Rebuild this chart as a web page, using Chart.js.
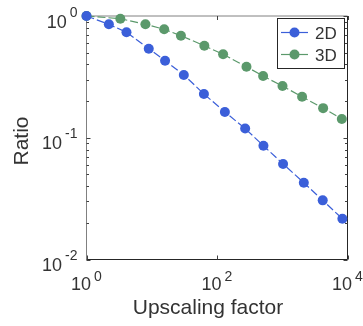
<!DOCTYPE html>
<html>
<head>
<meta charset="utf-8">
<script src="https://cdn.jsdelivr.net/npm/chart.js@4.4.1/dist/chart.umd.min.js"></script>
<style>
  html, body { margin: 0; padding: 0; background: #ffffff; }
  #wrap { width: 363px; height: 326px; position: relative; }
</style>
</head>
<body>
<div id="wrap"><canvas id="c" width="363" height="326"></canvas></div>
<script>
// ---- data ----
const seriesNames = ['2D', '3D'];
const factors2D = [1, 2.2, 4.1, 9, 16, 31, 63, 132, 270, 515, 1030, 2140, 4170, 8350];
const ratio2D   = [1, 0.855, 0.735, 0.539, 0.429, 0.328, 0.229, 0.163, 0.119, 0.086, 0.0609, 0.0427, 0.0306, 0.0216];
const factors3D = [1, 3.3, 8, 15.5, 28, 64, 124, 283, 509, 1009, 2014, 4230, 8180];
const ratio3D   = [1, 0.95, 0.855, 0.778, 0.689, 0.570, 0.485, 0.383, 0.321, 0.266, 0.217, 0.175, 0.1426];
const xTickValues = [1, 100, 10000];
const xTickExponents = ['0', '2', '4'];
const yTickValues = [1, 0.1, 0.01];
const yTickExponents = ['0', '-1', '-2'];
const xTitle = 'Upscaling factor';
const yTitle = 'Ratio';

const BLUE = '#3B5FD9';
const GREEN = '#5B996B';
const TEXT = '#333333';
const FONT = "'Liberation Sans', Arial, sans-serif";

function pts(xs, ys) { return xs.map((x, i) => ({ x: x, y: ys[i] })); }

const axesPlugin = {
  id: 'matlabAxes',
  beforeDatasetsDraw(chart) {
    const ctx = chart.ctx, a = chart.chartArea;
    const xs = chart.scales.x, ys = chart.scales.y;
    ctx.save();
    ctx.fillStyle = '#ffffff';
    ctx.fillRect(a.left, a.top, a.right - a.left, a.bottom - a.top);
    // box
    ctx.lineWidth = 1;
    ctx.strokeStyle = '#808080';
    ctx.beginPath();
    ctx.moveTo(a.left, a.bottom); ctx.lineTo(a.left, a.top); ctx.lineTo(a.right, a.top);
    ctx.stroke();
    ctx.strokeStyle = '#262626';
    ctx.beginPath();
    ctx.moveTo(a.left, a.bottom); ctx.lineTo(a.right, a.bottom); ctx.lineTo(a.right, a.top);
    ctx.stroke();
    // y ticks (major + minor), inward on both sides
    ctx.strokeStyle = '#404040';
    ctx.beginPath();
    yTickValues.forEach(v => {
      const y = Math.round(ys.getPixelForValue(v)) + 0.5;
      ctx.moveTo(a.left, y); ctx.lineTo(a.left + 4, y);
      ctx.moveTo(a.right, y); ctx.lineTo(a.right - 4, y);
    });
    [0.01, 0.1].forEach(d => {
      for (let k = 2; k <= 9; k++) {
        const y = Math.round(ys.getPixelForValue(k * d)) + 0.5;
        ctx.moveTo(a.left, y); ctx.lineTo(a.left + 2.5, y);
        ctx.moveTo(a.right, y); ctx.lineTo(a.right - 2.5, y);
      }
    });
    xTickValues.forEach(v => {
      const x = Math.round(xs.getPixelForValue(v)) + 0.5;
      ctx.moveTo(x, a.bottom); ctx.lineTo(x, a.bottom - 4);
      ctx.moveTo(x, a.top); ctx.lineTo(x, a.top + 4);
    });
    ctx.stroke();

    // tick labels
    ctx.fillStyle = TEXT;
    ctx.textBaseline = 'alphabetic';
    const bigF = '18px ' + FONT, smallF = '14px ' + FONT;
    yTickValues.forEach((v, i) => {
      const y = ys.getPixelForValue(v);
      const right = a.left - 9;
      ctx.font = smallF;
      const we = ctx.measureText(yTickExponents[i]).width;
      ctx.textAlign = 'left';
      ctx.fillText(yTickExponents[i], right - we, y + 0.5);
      ctx.font = bigF;
      const wb = ctx.measureText('10').width;
      ctx.fillText('10', right - we - 3 - wb, y + 11.5);
    });
    xTickValues.forEach((v, i) => {
      const x = xs.getPixelForValue(v);
      ctx.font = bigF;
      const wb = ctx.measureText('10').width;
      ctx.font = smallF;
      const we = ctx.measureText(xTickExponents[i]).width;
      const start = x - (wb + 3 + we) / 2;
      ctx.textAlign = 'left';
      ctx.font = bigF;
      ctx.fillText('10', start, 290);
      ctx.font = smallF;
      ctx.fillText(xTickExponents[i], start + wb + 3, 281);
    });

    // axis titles
    ctx.font = '21px ' + FONT;
    ctx.textAlign = 'center';
    ctx.fillText(xTitle, 208, 314);
    ctx.save();
    ctx.translate(28, 141);
    ctx.rotate(-Math.PI / 2);
    ctx.fillText(yTitle, 0, 0);
    ctx.restore();
    ctx.restore();
  },
  afterDatasetsDraw(chart) {
    const ctx = chart.ctx;
    ctx.save();
    // legend box
    ctx.fillStyle = '#ffffff';
    ctx.fillRect(277.5, 18.5, 67, 50);
    ctx.strokeStyle = '#262626';
    ctx.lineWidth = 1;
    ctx.strokeRect(277.5, 18.5, 67, 50);
    const colors = [BLUE, GREEN];
    const ly = [32.5, 54.5];
    seriesNames.forEach((name, i) => {
      ctx.strokeStyle = colors[i];
      ctx.lineWidth = 1.2;
      ctx.beginPath();
      ctx.moveTo(281, ly[i]); ctx.lineTo(308, ly[i]);
      ctx.stroke();
      ctx.fillStyle = colors[i];
      ctx.beginPath();
      ctx.arc(294.5, ly[i], 5, 0, Math.PI * 2);
      ctx.fill();
      ctx.fillStyle = TEXT;
      ctx.font = '17px ' + FONT;
      ctx.textAlign = 'left';
      ctx.textBaseline = 'alphabetic';
      ctx.fillText(name, 315, ly[i] + 6);
    });
    ctx.restore();
  }
};

new Chart(document.getElementById('c'), {
  type: 'scatter',
  data: {
    datasets: [
      { label: seriesNames[0], data: pts(factors2D, ratio2D), showLine: true,
        borderColor: BLUE, backgroundColor: BLUE, pointBackgroundColor: BLUE, pointBorderColor: BLUE,
        borderWidth: 1.2, borderDash: [8, 3], pointRadius: 5, pointBorderWidth: 0, clip: false },
      { label: seriesNames[1], data: pts(factors3D, ratio3D), showLine: true,
        borderColor: GREEN, backgroundColor: GREEN, pointBackgroundColor: GREEN, pointBorderColor: GREEN,
        borderWidth: 1.2, borderDash: [8, 3], pointRadius: 5, pointBorderWidth: 0, clip: false }
    ]
  },
  options: {
    responsive: false,
    animation: false,
    layout: { padding: { left: 86.5, right: 15.5, top: 16, bottom: 66.5 } },
    plugins: { legend: { display: false }, tooltip: { enabled: false } },
    scales: {
      x: { type: 'logarithmic', min: 1, max: 10000, display: false },
      y: { type: 'logarithmic', min: 0.01, max: 1, display: false }
    }
  },
  plugins: [axesPlugin]
});
</script>
</body>
</html>
